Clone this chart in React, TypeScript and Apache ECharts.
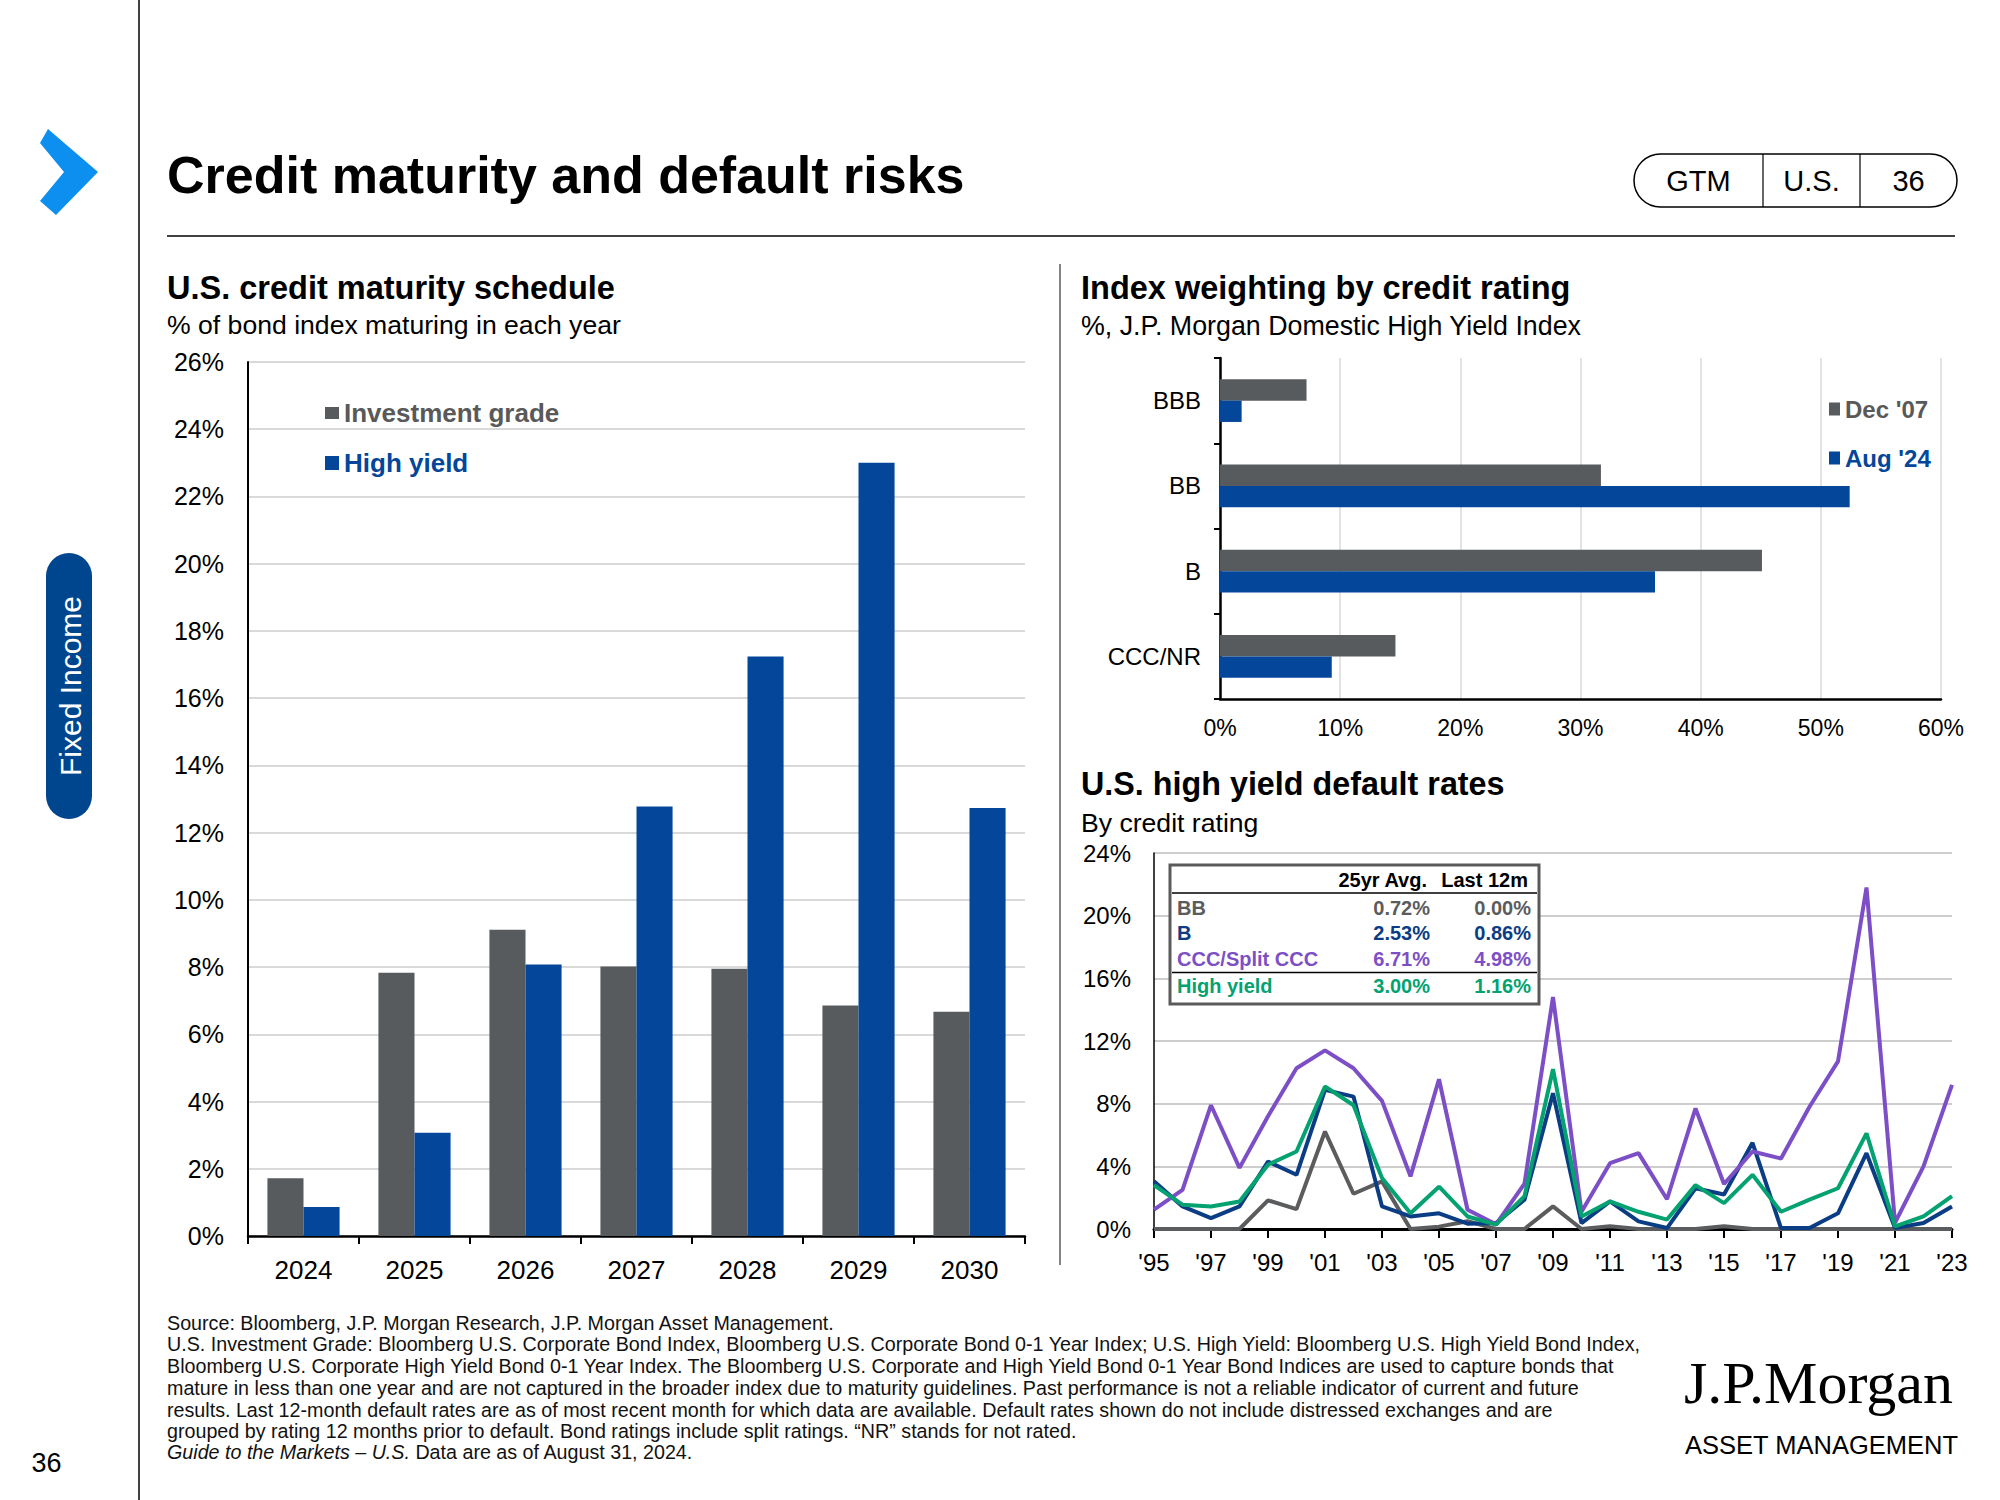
import React, { useEffect, useRef } from 'react';
import * as echarts from 'echarts';

const FONT = "'Liberation Sans', Arial, Helvetica, sans-serif";

// ---------- Data: U.S. credit maturity schedule ----------
const maturityYears = ['2024', '2025', '2026', '2027', '2028', '2029', '2030'];
const investmentGrade = [1.72, 7.83, 9.11, 8.02, 7.95, 6.86, 6.67];
const highYield = [0.86, 3.07, 8.08, 12.78, 17.24, 23.0, 12.73];

// ---------- Data: Index weighting by credit rating ----------
const ratings = ['BBB', 'BB', 'B', 'CCC/NR'];
const dec07 = [7.2, 31.7, 45.1, 14.6];
const aug24 = [1.8, 52.4, 36.2, 9.3];

// ---------- Data: U.S. high yield default rates ----------
const defaultYears = [
  '1995', '1996', '1997', '1998', '1999', '2000', '2001', '2002', '2003', '2004',
  '2005', '2006', '2007', '2008', '2009', '2010', '2011', '2012', '2013', '2014',
  '2015', '2016', '2017', '2018', '2019', '2020', '2021', '2022', '2023',
];
const bbRate = [0, 0, 0, 0, 1.83, 1.27, 6.22, 2.25, 3.04, 0, 0.15, 0.5, 0, 0, 1.44, 0, 0.17, 0, 0, 0, 0.17, 0, 0, 0, 0, 0, 0, 0, 0];
const bRate = [3.04, 1.44, 0.7, 1.44, 4.3, 3.46, 8.88, 8.45, 1.44, 0.8, 1.0, 0.34, 0.38, 1.87, 8.67, 0.38, 1.76, 0.49, 0.06, 2.6, 2.2, 5.5, 0.06, 0.06, 1.0, 4.84, 0.06, 0.38, 1.44];
const cccRate = [1.23, 2.5, 7.9, 3.9, 7.2, 10.26, 11.4, 10.26, 8.18, 3.36, 9.56, 1.23, 0.3, 2.9, 14.8, 1.1, 4.2, 4.84, 1.9, 7.7, 2.87, 4.95, 4.5, 7.8, 10.7, 21.8, 0.4, 4.0, 9.2];
const hyRate = [2.8, 1.55, 1.44, 1.76, 4.1, 4.95, 9.1, 7.9, 3.25, 1.0, 2.7, 0.8, 0.28, 2.1, 10.2, 0.8, 1.76, 1.1, 0.6, 2.8, 1.65, 3.46, 1.1, 1.87, 2.6, 6.1, 0.17, 0.8, 2.1];

// ---------- Table ----------
const tableHeader = ['25yr Avg.', 'Last 12m'];
const tableLabels = ['BB', 'B', 'CCC/Split CCC', 'High yield'];
const tableAvg = ['0.72%', '2.53%', '6.71%', '3.00%'];
const tableLast = ['0.00%', '0.86%', '4.98%', '1.16%'];

// ---------- Footnotes ----------
const footnotes = [
  'Source: Bloomberg, J.P. Morgan Research, J.P. Morgan Asset Management.',
  'U.S. Investment Grade: Bloomberg U.S. Corporate Bond Index, Bloomberg U.S. Corporate Bond 0-1 Year Index; U.S. High Yield: Bloomberg U.S. High Yield Bond Index,',
  'Bloomberg U.S. Corporate High Yield Bond 0-1 Year Index. The Bloomberg U.S. Corporate and High Yield Bond 0-1 Year Bond Indices are used to capture bonds that',
  'mature in less than one year and are not captured in the broader index due to maturity guidelines. Past performance is not a reliable indicator of current and future',
  'results. Last 12-month default rates are as of most recent month for which data are available. Default rates shown do not include distressed exchanges and are',
  'grouped by rating 12 months prior to default. Bond ratings include split ratings. \u201cNR\u201d stands for not rated.',
];
const footnoteItalic = 'Guide to the Markets \u2013 U.S.';
const footnoteLast = ' Data are as of August 31, 2024.';

// ---------- Colours ----------
const GREY = '#585b5e';
const BLUE = '#04469a';
const C_BB = '#5b5c5e';
const C_B = '#0b3d84';
const C_CCC = '#7d4fc6';
const C_HY = '#03a270';
const tableColors = [C_BB, C_B, C_CCC, C_HY];

function txt(x: number, y: number, text: string, opts: any = {}) {
  return {
    type: 'text',
    x,
    y,
    z: opts.z ?? 50,
    rotation: opts.rotation ?? 0,
    style: {
      text,
      fill: opts.fill ?? '#000',
      fontSize: opts.fontSize ?? 20,
      fontWeight: opts.fontWeight ?? 'normal',
      fontStyle: opts.fontStyle ?? 'normal',
      fontFamily: opts.fontFamily ?? FONT,
      align: opts.align ?? 'left',
      verticalAlign: opts.verticalAlign ?? 'middle',
      rich: opts.rich,
    },
  };
}

function line(x1: number, y1: number, x2: number, y2: number, stroke: string, lineWidth: number, z = 50) {
  return { type: 'line', z, shape: { x1, y1, x2, y2 }, style: { stroke, lineWidth } };
}

export default function App() {
  const ref = useRef<HTMLDivElement>(null);

  useEffect(() => {
    if (!ref.current) return;
    const chart = echarts.init(ref.current, null, { renderer: 'svg' });

    const graphics: any[] = [];
    // page frame
    graphics.push(line(139, 0, 139, 1500, '#000', 1.5));
    graphics.push({
      type: 'polygon',
      z: 50,
      shape: { points: [[48, 129], [98, 172], [56, 215], [40, 201], [64, 172], [40, 143]] },
      style: { fill: '#0d8ff0' },
    });
    graphics.push(txt(167, 175, 'Credit maturity and default risks', { fontSize: 52, fontWeight: 'bold' }));
    graphics.push(line(167, 236, 1955, 236, '#000', 1.5));
    // GTM box
    graphics.push({
      type: 'rect',
      z: 50,
      shape: { x: 1634, y: 154, width: 323, height: 53, r: 26.5 },
      style: { fill: 'none', stroke: '#000', lineWidth: 1.5 },
    });
    graphics.push(line(1763, 154, 1763, 207, '#000', 1.2));
    graphics.push(line(1860, 154, 1860, 207, '#000', 1.2));
    graphics.push(txt(1698.5, 181, 'GTM', { fontSize: 29, align: 'center' }));
    graphics.push(txt(1811.5, 181, 'U.S.', { fontSize: 29, align: 'center' }));
    graphics.push(txt(1908.5, 181, '36', { fontSize: 29, align: 'center' }));
    // side tab
    graphics.push({
      type: 'rect',
      z: 50,
      shape: { x: 46, y: 553, width: 46, height: 266, r: 23 },
      style: { fill: '#00468e' },
    });
    graphics.push(txt(70, 686, 'Fixed Income', { fontSize: 30, fill: '#fff', align: 'center', rotation: Math.PI / 2 }));
    graphics.push(txt(46.5, 1463, '36', { fontSize: 27, align: 'center' }));
    // separator
    graphics.push(line(1060, 264, 1060, 1265, '#333', 1.2));
    // titles
    graphics.push(txt(167, 288, 'U.S. credit maturity schedule', { fontSize: 32.5, fontWeight: 'bold' }));
    graphics.push(txt(167, 325, '% of bond index maturing in each year', { fontSize: 26.6 }));
    graphics.push(txt(1081, 288, 'Index weighting by credit rating', { fontSize: 32.5, fontWeight: 'bold' }));
    graphics.push(txt(1081, 326, '%, J.P. Morgan Domestic High Yield Index', { fontSize: 26.8 }));
    graphics.push(txt(1081, 784, 'U.S. high yield default rates', { fontSize: 32.3, fontWeight: 'bold' }));
    graphics.push(txt(1081, 823, 'By credit rating', { fontSize: 26.6 }));

    // table
    graphics.push({
      type: 'rect',
      z: 100,
      shape: { x: 1170, y: 865, width: 369, height: 139 },
      style: { fill: '#fff', stroke: '#5a5a5a', lineWidth: 3 },
    });
    graphics.push(txt(1427, 880, tableHeader[0], { fontSize: 20, fontWeight: 'bold', align: 'right', z: 110 }));
    graphics.push(txt(1528, 880, tableHeader[1], { fontSize: 20, fontWeight: 'bold', align: 'right', z: 110 }));
    graphics.push(line(1172, 893, 1537, 893, '#000', 1.5, 110));
    graphics.push(line(1172, 972.5, 1537, 972.5, '#000', 1.5, 110));
    const rowY = [908, 933, 959, 986];
    tableLabels.forEach((lab, i) => {
      const c = tableColors[i];
      graphics.push(txt(1177, rowY[i], lab, { fontSize: 20, fontWeight: 'bold', fill: c, z: 110 }));
      graphics.push(txt(1430, rowY[i], tableAvg[i], { fontSize: 20, fontWeight: 'bold', fill: c, align: 'right', z: 110 }));
      graphics.push(txt(1531, rowY[i], tableLast[i], { fontSize: 20, fontWeight: 'bold', fill: c, align: 'right', z: 110 }));
    });

    // footnotes
    const fy = [1323, 1344, 1366, 1388, 1410, 1431];
    const FN = 19.7;
    footnotes.forEach((t, i) => graphics.push(txt(167, fy[i], t, { fontSize: FN, fill: '#111' })));
    graphics.push(
      txt(167, 1452, '{i|' + footnoteItalic + '}' + footnoteLast, {
        fontSize: FN,
        fill: '#111',
        rich: { i: { fontStyle: 'italic', fontSize: FN, fontFamily: FONT, fill: '#111' } },
      })
    );

    // logo
    graphics.push(txt(1684, 1383, 'J.P.Morgan', { fontSize: 60, fontFamily: "'Liberation Serif', 'Times New Roman', serif" }));
    graphics.push(txt(1685, 1445, 'ASSET MANAGEMENT', { fontSize: 25.5 }));

    const axisLabel = (size: number, margin: number, extra: any = {}) => ({
      color: '#000',
      fontSize: size,
      fontFamily: FONT,
      margin,
      ...extra,
    });

    const option: any = {
      animation: false,
      backgroundColor: '#fff',
      textStyle: { fontFamily: FONT },
      grid: [
        { left: 248, top: 362, width: 777, height: 874 },
        { left: 1220, top: 358, width: 721, height: 341 },
        { left: 1154, top: 853, width: 798, height: 376 },
      ],
      legend: [
        {
          data: [{ name: 'Investment grade', textStyle: { color: '#595959' } }],
          left: 325, top: 400, padding: 0, icon: 'rect', itemWidth: 14, itemHeight: 12,
          selectedMode: false, textStyle: { fontSize: 26, fontWeight: 'bold', fontFamily: FONT },
        },
        {
          data: [{ name: 'High yield', textStyle: { color: BLUE } }],
          left: 325, top: 450, padding: 0, icon: 'rect', itemWidth: 14, itemHeight: 14,
          selectedMode: false, textStyle: { fontSize: 26, fontWeight: 'bold', fontFamily: FONT },
        },
        {
          data: [{ name: "Dec '07", textStyle: { color: '#595959' } }],
          left: 1829, top: 397, padding: 0, icon: 'rect', itemWidth: 11, itemHeight: 13,
          selectedMode: false, textStyle: { fontSize: 24, fontWeight: 'bold', fontFamily: FONT },
        },
        {
          data: [{ name: "Aug '24", textStyle: { color: BLUE } }],
          left: 1829, top: 446, padding: 0, icon: 'rect', itemWidth: 11, itemHeight: 13,
          selectedMode: false, textStyle: { fontSize: 24, fontWeight: 'bold', fontFamily: FONT },
        },
      ],
      xAxis: [
        {
          gridIndex: 0, type: 'category', data: maturityYears,
          axisLine: { lineStyle: { color: '#000', width: 2.5 } },
          axisTick: { show: true, length: 8, lineStyle: { color: '#000', width: 2 } },
          axisLabel: axisLabel(26, 21),
          splitLine: { show: false },
        },
        {
          gridIndex: 1, type: 'value', min: 0, max: 60, interval: 10,
          axisLine: { show: true, lineStyle: { color: '#000', width: 2.5 } },
          axisTick: { show: false },
          axisLabel: axisLabel(23, 17, { formatter: '{value}%' }),
          splitLine: { show: true, lineStyle: { color: '#dadada', width: 1.5 } },
        },
        {
          gridIndex: 2, type: 'category', data: defaultYears, boundaryGap: false,
          axisLine: { lineStyle: { color: '#000', width: 3 } },
          axisTick: { show: true, interval: 1, length: 9, lineStyle: { color: '#000', width: 2 } },
          axisLabel: axisLabel(24, 21, { interval: 1, formatter: (v: string) => "'" + v.slice(2) }),
          splitLine: { show: false },
        },
      ],
      yAxis: [
        {
          gridIndex: 0, type: 'value', min: 0, max: 26, interval: 2,
          axisLine: { show: true, lineStyle: { color: '#000', width: 2 } },
          axisTick: { show: false },
          axisLabel: axisLabel(25, 24, { formatter: '{value}%' }),
          splitLine: { lineStyle: { color: '#d9d9d9', width: 2 } },
        },
        {
          gridIndex: 1, type: 'category', data: ratings, inverse: true,
          axisLine: { show: true, lineStyle: { color: '#000', width: 2.5 } },
          axisTick: { show: true, length: 6, lineStyle: { color: '#000', width: 2 } },
          axisLabel: axisLabel(24, 19),
          splitLine: { show: false },
        },
        {
          gridIndex: 2, type: 'value', min: 0, max: 24, interval: 4,
          axisLine: { show: true, lineStyle: { color: '#000', width: 1.5 } },
          axisTick: { show: false },
          axisLabel: axisLabel(24, 23, { formatter: '{value}%' }),
          splitLine: { lineStyle: { color: '#cdcdcd', width: 2 } },
        },
      ],
      series: [
        {
          name: 'Investment grade', type: 'bar', xAxisIndex: 0, yAxisIndex: 0, data: investmentGrade,
          itemStyle: { color: GREY }, barGap: '0%', barCategoryGap: '35%',
        },
        {
          name: 'High yield', type: 'bar', xAxisIndex: 0, yAxisIndex: 0, data: highYield,
          itemStyle: { color: BLUE }, barGap: '0%', barCategoryGap: '35%',
        },
        {
          name: "Dec '07", type: 'bar', xAxisIndex: 1, yAxisIndex: 1, data: dec07,
          itemStyle: { color: GREY }, barGap: '0%', barCategoryGap: '50%',
        },
        {
          name: "Aug '24", type: 'bar', xAxisIndex: 1, yAxisIndex: 1, data: aug24,
          itemStyle: { color: BLUE }, barGap: '0%', barCategoryGap: '50%',
        },
        {
          name: 'BB', type: 'line', xAxisIndex: 2, yAxisIndex: 2, data: bbRate, symbol: 'none',
          lineStyle: { color: C_BB, width: 4 }, itemStyle: { color: C_BB },
        },
        {
          name: 'B', type: 'line', xAxisIndex: 2, yAxisIndex: 2, data: bRate, symbol: 'none',
          lineStyle: { color: C_B, width: 4 }, itemStyle: { color: C_B },
        },
        {
          name: 'CCC/Split CCC', type: 'line', xAxisIndex: 2, yAxisIndex: 2, data: cccRate, symbol: 'none',
          lineStyle: { color: C_CCC, width: 4 }, itemStyle: { color: C_CCC },
        },
        {
          name: 'High yield default rate', type: 'line', xAxisIndex: 2, yAxisIndex: 2, data: hyRate, symbol: 'none',
          lineStyle: { color: C_HY, width: 4 }, itemStyle: { color: C_HY },
        },
      ],
      graphic: { elements: graphics },
    };

    chart.setOption(option);
    return () => chart.dispose();
  }, []);

  return (
    <div
      ref={ref}
      style={{ position: 'absolute', left: 0, top: 0, width: '2000px', height: '1500px', background: '#fff' }}
    />
  );
}
